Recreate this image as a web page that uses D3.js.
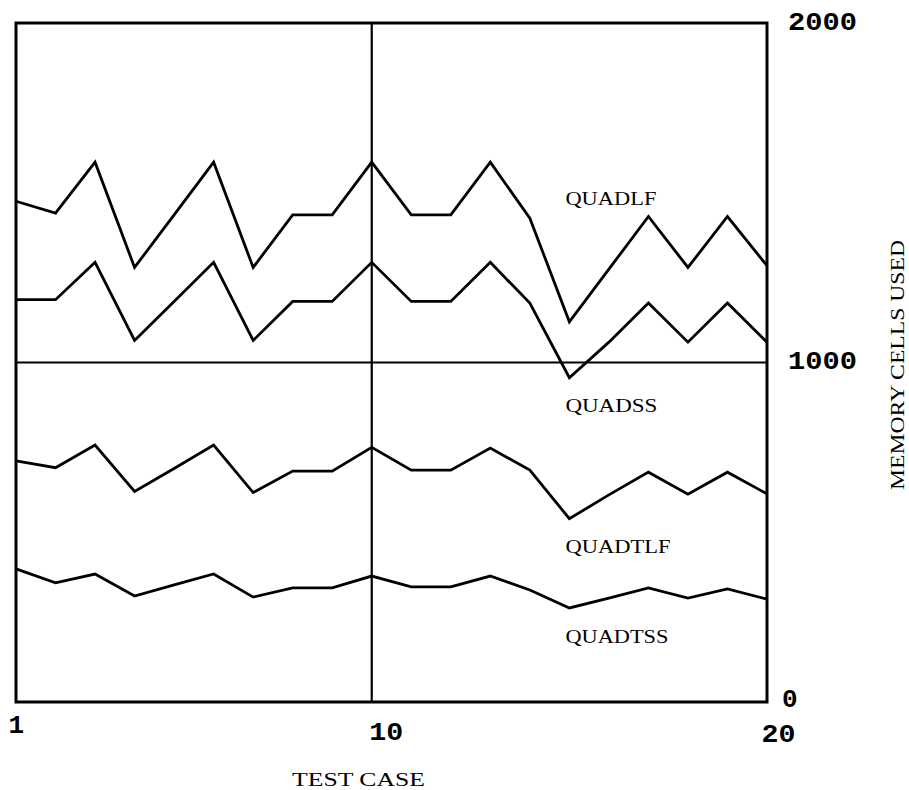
<!DOCTYPE html>
<html>
<head>
<meta charset="utf-8">
<script src="https://cdn.jsdelivr.net/npm/d3@7"></script>
<style>
  body { margin: 0; background: #fff; }
  svg { display: block; }
</style>
</head>
<body>
<script>
const width = 909;
const height = 790;
const margin = {top: 23, right: 142, bottom: 88, left: 16};

// Test cases 1..20
const testCases = d3.range(1, 21);

// Memory cells used
const quadlf  = [1475, 1440, 1590, 1280, 1435, 1590, 1280, 1435, 1435, 1590, 1435, 1435, 1590, 1425, 1120, 1275, 1430, 1280, 1430, 1285];
const quadss  = [1185, 1185, 1295, 1065, 1180, 1295, 1065, 1180, 1180, 1295, 1180, 1180, 1295, 1175, 955, 1060, 1175, 1060, 1175, 1060];
const quadtlf = [710, 690, 757, 620, 688, 757, 617, 680, 680, 750, 683, 683, 748, 683, 540, 610, 677, 612, 677, 613];
const quadtss = [392, 351, 377, 312, 345, 377, 309, 336, 336, 371, 339, 339, 371, 330, 277, 306, 336, 306, 333, 303];

const seriesNames = ["QUADLF", "QUADSS", "QUADTLF", "QUADTSS"];
const seriesValues = [quadlf, quadss, quadtlf, quadtss];
// label anchor: [test case, memory value] where each name is written
const labelPos = [[14.9, 1465], [14.9, 855], [14.9, 440], [14.9, 175]];
const labelWidth = [91, 92, 105, 103];

const xTicks = [1, 10, 20];
const yTicks = [0, 1000, 2000];

const innerW = width - margin.left - margin.right;
const innerH = height - margin.top - margin.bottom;

const x = d3.scaleLinear().domain([1, 20]).range([0, innerW]);
const y = d3.scaleLinear().domain([0, 2000]).range([innerH, 0]);

const svg = d3.select("body").append("svg")
  .attr("width", width)
  .attr("height", height);

const g = svg.append("g").attr("transform", `translate(${margin.left},${margin.top})`);

// Frame
g.append("rect")
  .attr("x", 0).attr("y", 0)
  .attr("width", innerW).attr("height", innerH)
  .attr("fill", "none")
  .attr("stroke", "#000")
  .attr("stroke-width", 3);

// Center cross lines at test case 10 and 1000 cells
g.append("line")
  .attr("x1", x(10)).attr("x2", x(10))
  .attr("y1", 0).attr("y2", innerH)
  .attr("stroke", "#000").attr("stroke-width", 2.2);
g.append("line")
  .attr("x1", 0).attr("x2", innerW)
  .attr("y1", y(1000)).attr("y2", y(1000))
  .attr("stroke", "#000").attr("stroke-width", 2.2);

// Series lines
const line = d3.line()
  .x((d, i) => x(testCases[i]))
  .y(d => y(d));

g.selectAll(".series")
  .data(seriesValues)
  .join("path")
    .attr("class", "series")
    .attr("d", line)
    .attr("fill", "none")
    .attr("stroke", "#000")
    .attr("stroke-width", 2.8)
    .attr("stroke-linejoin", "miter");

// Series names
g.selectAll(".name")
  .data(seriesNames)
  .join("text")
    .attr("class", "name")
    .attr("x", (d, i) => x(labelPos[i][0]))
    .attr("y", (d, i) => y(labelPos[i][1]))
    .attr("textLength", (d, i) => labelWidth[i])
    .attr("lengthAdjust", "spacingAndGlyphs")
    .attr("font-family", "Liberation Serif, serif")
    .attr("font-size", 19)
    .text(d => d);

// X axis labels
const xAxis = d3.axisBottom(x).tickValues(xTicks).tickSize(0).tickPadding(0).tickFormat(d3.format("d"));
const gx = g.append("g")
  .attr("transform", `translate(0,${innerH})`)
  .call(xAxis);
gx.select(".domain").remove();
gx.selectAll("text")
  .attr("y", 0)
  .attr("dy", null)
  .attr("font-family", "Liberation Mono, monospace")
  .attr("font-weight", "bold")
  .attr("font-size", 26)
  .attr("fill", "#000")
  .attr("text-anchor", "start")
  .attr("x", d => d === 1 ? -8 : (d === 10 ? -3 : -6))
  .attr("transform", d => `translate(0,${d === 1 ? 31 : (d === 10 ? 38 : 40)})`)
  .filter(d => d !== 1)
  .attr("textLength", 34)
  .attr("lengthAdjust", "spacingAndGlyphs");

// Y axis labels on the right
const yAxis = d3.axisRight(y).tickValues(yTicks).tickSize(0).tickPadding(0).tickFormat(d3.format("d"));
const gy = g.append("g")
  .attr("transform", `translate(${innerW},0)`)
  .call(yAxis);
gy.select(".domain").remove();
gy.selectAll("text")
  .attr("dy", null)
  .attr("y", d => d === 0 ? 4 : 6)
  .attr("x", d => d === 0 ? 15 : 21)
  .attr("font-family", "Liberation Mono, monospace")
  .attr("font-weight", "bold")
  .attr("font-size", 26)
  .attr("fill", "#000")
  .attr("text-anchor", "start")
  .filter(d => d !== 0)
  .attr("textLength", 69)
  .attr("lengthAdjust", "spacingAndGlyphs");

// Axis titles
svg.append("text")
  .attr("x", 292)
  .attr("y", 786)
  .attr("textLength", 133)
  .attr("lengthAdjust", "spacingAndGlyphs")
  .attr("font-family", "Liberation Serif, serif")
  .attr("font-size", 19)
  .text("TEST CASE");

svg.append("text")
  .attr("transform", "translate(904,490) rotate(-90)")
  .attr("textLength", 250)
  .attr("lengthAdjust", "spacingAndGlyphs")
  .attr("font-family", "Liberation Serif, serif")
  .attr("font-size", 19)
  .text("MEMORY CELLS USED");
</script>
</body>
</html>
